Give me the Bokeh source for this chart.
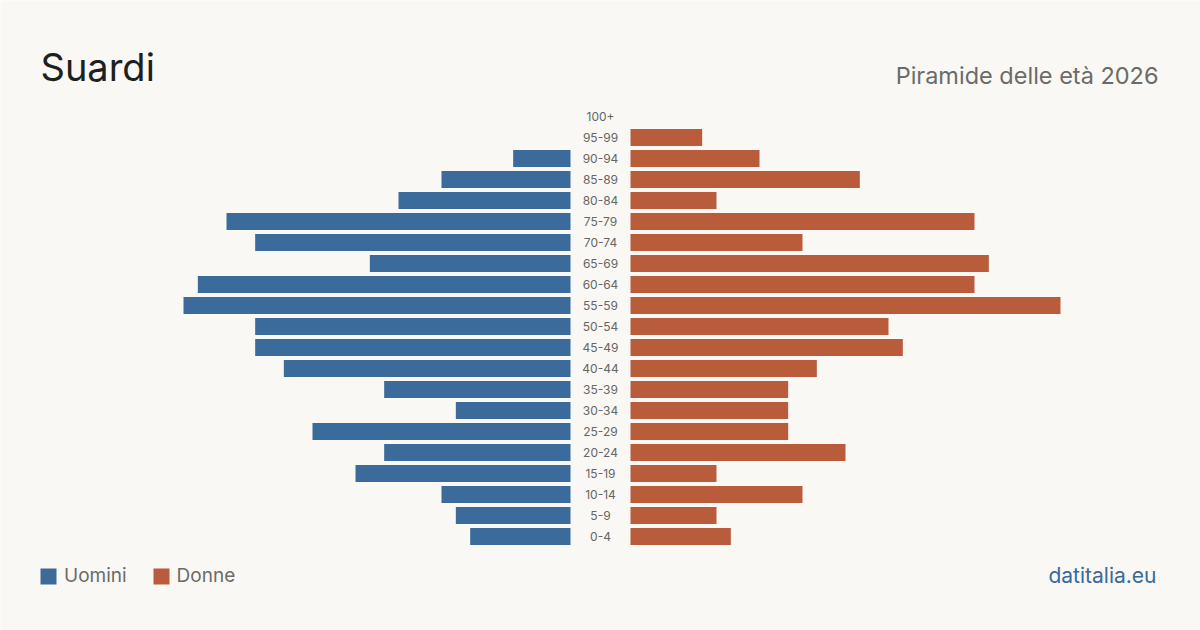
from bokeh.plotting import figure
from bokeh.models import Range1d, Label, Legend, LegendItem, ColumnDataSource
from bokeh.embed import file_html
from bokeh.resources import INLINE
from bokeh.core.properties import value

# Age classes, youngest first
age_groups = ["0-4", "5-9", "10-14", "15-19", "20-24", "25-29", "30-34", "35-39",
              "40-44", "45-49", "50-54", "55-59", "60-64", "65-69", "70-74",
              "75-79", "80-84", "85-89", "90-94", "95-99", "100+"]
men = [7, 8, 9, 15, 13, 18, 8, 13, 20, 22, 22, 27, 26, 14, 22, 24, 12, 9, 4, 0, 0]
women = [7, 6, 12, 6, 15, 11, 11, 11, 13, 19, 18, 30, 24, 25, 12, 24, 6, 16, 9, 5, 0]

BG = "#f9f8f4"
BLUE = "#3b6b9b"
RED = "#b85c3c"
FONT = "Inter"

W, H = 1200, 630
px_per_unit = 14.333          # horizontal scale: pixels per person
gap = 30 / px_per_unit        # half-width of the central label column
half_span = (W / 2) / px_per_unit
row_px = 21.0
base_px = 536.0               # pixel row of the youngest class

p = figure(width=W, height=H, output_backend="svg", toolbar_location=None,
           x_range=Range1d(-half_span, half_span),
           y_range=Range1d((base_px - H) / row_px, base_px / row_px),
           min_border=0, background_fill_color=BG, border_fill_color=BG)
p.axis.visible = False
p.grid.visible = False
p.outline_line_color = None

idx = list(range(len(age_groups)))
src = ColumnDataSource(dict(
    y=idx, label=age_groups,
    m_left=[-gap - v for v in men], m_right=[-gap] * len(men),
    f_left=[gap] * len(women), f_right=[gap + v for v in women],
))

bar_h = 17 / row_px
r_m = p.hbar(y="y", left="m_left", right="m_right", height=bar_h, source=src,
             fill_color=BLUE, line_color=None)
r_f = p.hbar(y="y", left="f_left", right="f_right", height=bar_h, source=src,
             fill_color=RED, line_color=None)

p.text(x=0, y="y", text="label", source=src, text_align="center",
       text_baseline="middle", text_font=value(FONT), text_font_size="12px",
       text_color="#666666")

p.add_layout(Label(x=40, y=H - 66, x_units="screen", y_units="screen",
                   text="Suardi", text_font=FONT, text_font_size="38px",
                   text_color="#1f1f1f", text_baseline="alphabetic"))
p.add_layout(Label(x=1158, y=H - 75, x_units="screen", y_units="screen",
                   text="Piramide delle età 2026", text_font=FONT,
                   text_font_size="23.5px", text_color="#6b6b6b",
                   text_align="right", text_baseline="alphabetic"))
p.add_layout(Label(x=1156, y=H - 575, x_units="screen", y_units="screen",
                   text="datitalia.eu", text_font=FONT, text_font_size="21px",
                   text_color="#3a6a9c", text_align="right",
                   text_baseline="alphabetic"))

legend = Legend(items=[LegendItem(label="Uomini", renderers=[r_m]),
                       LegendItem(label="Donne", renderers=[r_f])],
                orientation="horizontal", location=(38, 43),
                glyph_width=20, glyph_height=20, label_standoff=6, spacing=24,
                padding=0, margin=0, border_line_color=None,
                background_fill_alpha=0, label_text_font=FONT,
                label_text_font_size="19px", label_text_color="#6b6b6b")
p.add_layout(legend)

open("out.html", "w").write(file_html(p, INLINE))
